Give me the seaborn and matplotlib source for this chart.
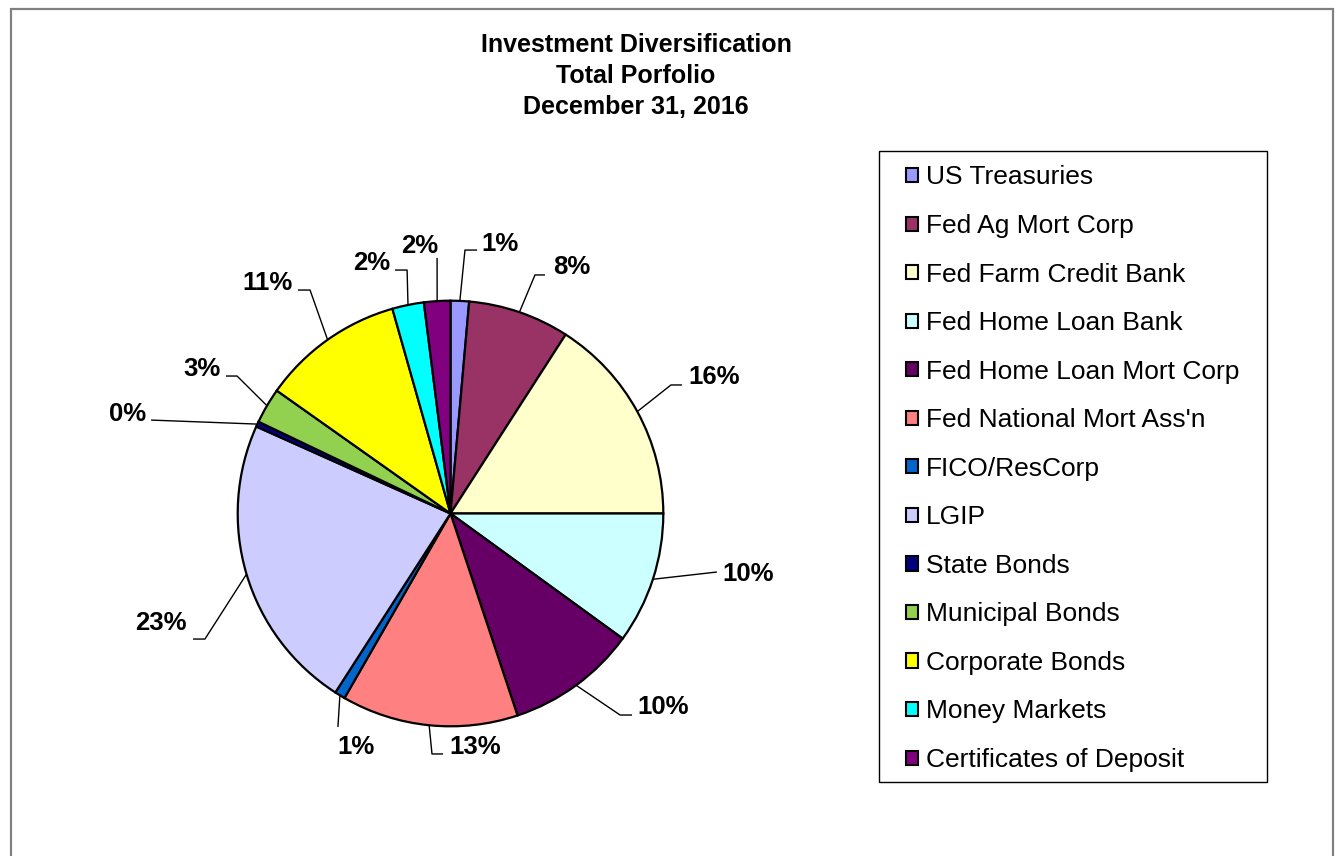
import numpy as np
import matplotlib
matplotlib.use("Agg")
import matplotlib.pyplot as plt
from matplotlib.patches import Rectangle
import seaborn as sns

# Portfolio composition (percent of total), in drawing order clockwise from 12 o'clock
categories = [
    "US Treasuries", "Fed Ag Mort Corp", "Fed Farm Credit Bank", "Fed Home Loan Bank",
    "Fed Home Loan Mort Corp", "Fed National Mort Ass'n", "FICO/ResCorp", "LGIP",
    "State Bonds", "Municipal Bonds", "Corporate Bonds", "Money Markets",
    "Certificates of Deposit",
]
shares = [1.4, 7.7, 15.9, 10.0, 9.9, 13.4, 0.8, 22.6, 0.4, 2.7, 10.8, 2.4, 2.0]
title_lines = ["Investment Diversification", "Total Porfolio", "December 31, 2016"]

slice_colors = [
    "#9999FF", "#993366", "#FFFFCC", "#CCFFFF", "#660066", "#FF8080", "#0066CC",
    "#CCCCFF", "#000080", "#92D050", "#FFFF00", "#00FFFF", "#800080",
]

# Leader-line geometry for each percentage label (pie radius = 1):
# (elbow point, end point, text anchor, ha)
label_layout = [
    ((0.068, 1.238), (0.125, 1.238), (0.143, 1.234), "left"),
    ((0.397, 1.121), (0.444, 1.121), (0.482, 1.125), "left"),
    ((1.036, 0.604), (1.088, 0.604), (1.116, 0.609), "left"),
    ((1.252, -0.275), (1.252, -0.275), (1.276, -0.317), "left"),
    ((0.797, -0.947), (0.853, -0.947), (0.876, -0.942), "left"),
    ((-0.087, -1.130), (-0.035, -1.130), (-0.007, -1.130), "left"),
    ((-0.529, -1.003), (-0.529, -1.003), (-0.533, -1.130), "left"),
    ((-1.154, -0.590), (-1.210, -0.590), (-1.238, -0.547), "right"),
    ((-1.407, 0.439), (-1.407, 0.439), (-1.431, 0.435), "right"),
    ((-1.003, 0.646), (-1.055, 0.646), (-1.079, 0.644), "right"),
    ((-0.660, 1.050), (-0.717, 1.050), (-0.740, 1.050), "right"),
    ((-0.204, 1.144), (-0.261, 1.144), (-0.284, 1.144), "right"),
    ((-0.063, 1.201), (-0.063, 1.201), (-0.059, 1.224), "right"),
]

sns.set_theme(style="white")
plt.rcParams["font.family"] = ["Liberation Sans", "DejaVu Sans"]
plt.rcParams["text.color"] = "black"

W, H, DPI = 1340, 856, 100
fig = plt.figure(figsize=(W / DPI, H / DPI), dpi=DPI)
fig.patch.set_facecolor("white")

# Pie axes: centre at (450.5, 513.5) px, radius 212.8 px
cx, cy, r = 450.5, 513.5, 212.8
ax_w = 900
ax = fig.add_axes([0, 0, ax_w / W, 1])
palette = sns.color_palette(slice_colors)

wedges, _ = ax.pie(
    shares, colors=palette, startangle=90, counterclock=False, radius=1.0,
    wedgeprops=dict(edgecolor="black", linewidth=1.6),
)
ax.set_xlim(-cx / r, (ax_w - cx) / r)
ax.set_ylim((cy - H) / r, cy / r)
ax.set_aspect("equal", adjustable="box")
ax.axis("off")

# Percentage labels with leader lines
total = sum(shares)
for w, val, (elbow, end, txt, ha) in zip(wedges, shares, label_layout):
    mid = np.deg2rad((w.theta1 + w.theta2) / 2)
    start = (np.cos(mid), np.sin(mid))
    xs = [start[0], elbow[0], end[0]]
    ys = [start[1], elbow[1], end[1]]
    ax.plot(xs, ys, color="black", linewidth=1.0, clip_on=False,
            solid_capstyle="butt")
    ax.text(txt[0], txt[1], f"{100 * val / total:.0f}%", ha=ha, va="baseline",
            fontsize=18.5, fontweight="bold", color="black", clip_on=False)

# Title
fig.text(636 / W, 1 - 76 / H, "\n".join(title_lines), ha="center", va="center",
         fontsize=18, fontweight="bold", linespacing=1.36, color="black")

# Legend
leg = ax.legend(
    wedges, categories, loc="upper left",
    bbox_to_anchor=(906 / W, 1 - 165.5 / H), bbox_transform=fig.transFigure,
    frameon=False, fontsize=19, handlelength=0.45, handleheight=0.45,
    handletextpad=0.3, labelspacing=0.93, borderpad=0, borderaxespad=0,
)
for h in leg.legend_handles:
    h.set_edgecolor("black")
    h.set_linewidth(1.5)
for t in leg.get_texts():
    t.set_color("black")

# Legend frame
fig.patches.append(Rectangle((879 / W, 1 - 782 / H), (1267 - 879) / W, (782 - 151) / H,
                             transform=fig.transFigure, fill=False,
                             edgecolor="black", linewidth=1.0))
# Outer chart border
fig.patches.append(Rectangle((11 / W, -0.01), (1333 - 11) / W, 1.01 - 8.5 / H,
                             transform=fig.transFigure, fill=False,
                             edgecolor="#808080", linewidth=1.6))

fig.savefig("out.png", dpi=DPI, facecolor="white")
